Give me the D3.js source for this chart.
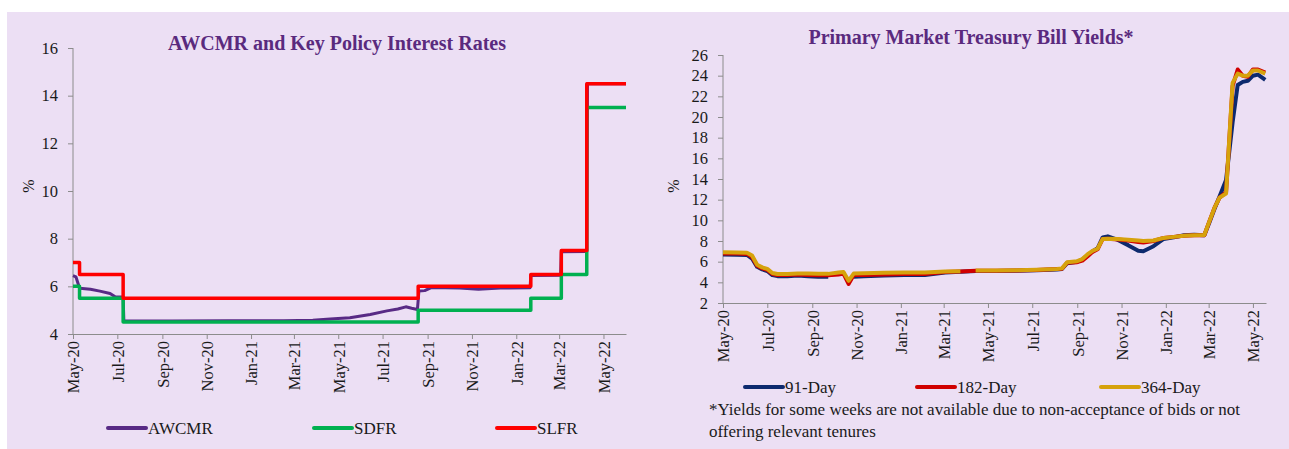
<!DOCTYPE html>
<html>
<head>
<meta charset="utf-8">
<script src="https://cdn.jsdelivr.net/npm/d3@7"></script>
<style>
  html, body { margin: 0; padding: 0; background: #fff; }
  svg { display: block; font-family: "Liberation Serif", "Times New Roman", serif; }
  .tick text { fill: #1a1a1a; }
  .domain, .tick line { stroke: #8c8c8c; }
</style>
</head>
<body>
<svg id="chart" width="1289" height="449"></svg>
<script>
const svg = d3.select("#chart");
const parse = d3.utcParse("%Y-%m-%d");

// --- left chart: AWCMR and policy rates ---
const policyDates = ["2020-05-01", "2020-05-10", "2020-07-09", "2021-08-19", "2022-01-21", "2022-03-04", "2022-04-08", "2022-06-01"];
const slfr = [7.0, 6.5, 5.5, 6.0, 6.5, 7.5, 14.5, 14.5];
const sdfr = [6.0, 5.5, 4.5, 5.0, 5.5, 6.5, 13.5, 13.5];

const awcmrDates = [
  "2020-05-01", "2020-05-05", "2020-05-10", "2020-05-25", "2020-06-07", "2020-06-21", "2020-06-28",
  "2020-07-09", "2020-07-10", "2020-09-15", "2020-12-01", "2021-02-15", "2021-03-27", "2021-04-20",
  "2021-05-17", "2021-06-14", "2021-07-07", "2021-07-22", "2021-08-02", "2021-08-10", "2021-08-18",
  "2021-08-20", "2021-08-28", "2021-09-06", "2021-10-15", "2021-11-10", "2021-12-10", "2022-01-20",
  "2022-01-21", "2022-03-03", "2022-03-04", "2022-04-08", "2022-04-09", "2022-06-01"
];
const awcmr = [
  6.45, 6.40, 5.92, 5.88, 5.80, 5.70, 5.56,
  5.55, 4.55, 4.55, 4.56, 4.56, 4.58, 4.63,
  4.68, 4.82, 4.97, 5.05, 5.14, 5.08, 5.03,
  5.80, 5.82, 5.95, 5.93, 5.88, 5.93, 5.94,
  6.45, 6.46, 7.45, 7.46, 14.5, 14.5
];

// --- right chart: primary market T-bill yields (null = not available) ---
const tbDates = [
  "2020-05-01", "2020-05-20", "2020-06-03", "2020-06-10", "2020-06-17", "2020-06-24", "2020-07-01",
  "2020-07-08", "2020-07-15", "2020-07-29", "2020-08-12", "2020-08-26", "2020-09-09", "2020-09-23",
  "2020-10-07", "2020-10-14", "2020-10-21", "2020-10-28", "2020-11-11", "2020-12-09", "2021-01-06",
  "2021-02-03", "2021-03-03", "2021-03-24", "2021-03-31", "2021-04-14", "2021-05-12", "2021-06-09",
  "2021-07-07", "2021-08-04", "2021-08-11", "2021-08-18", "2021-09-01", "2021-09-08", "2021-09-15",
  "2021-09-22", "2021-09-29", "2021-10-06", "2021-10-13", "2021-10-27", "2021-11-10", "2021-11-24",
  "2021-12-01", "2021-12-15", "2021-12-29", "2022-01-12", "2022-01-26", "2022-02-09", "2022-02-23",
  "2022-03-02", "2022-03-09", "2022-03-16", "2022-03-25", "2022-04-03", "2022-04-10", "2022-04-17",
  "2022-04-24", "2022-05-01", "2022-05-08", "2022-05-18"
];
const t91 = [
  6.70, 6.68, 6.65, 6.30, 5.50, 5.25, 5.10,
  4.70, 4.60, 4.60, 4.65, 4.60, 4.55, 4.55,
  null, null, null, 4.55, 4.60, 4.65, 4.70,
  4.70, 4.95, 5.02, 5.05, 5.10, 5.10, 5.12,
  5.18, 5.25, 5.30, 5.85, 6.00, 6.20, 6.60,
  7.00, 7.30, 8.35, 8.45, 8.10, 7.60, 7.05,
  7.00, 7.50, 8.20, 8.35, 8.55, 8.60, 8.55,
  9.80, 11.1, 12.3, 13.9, 19.5, 23.1, 23.4,
  23.5, 24.0, 24.1, 23.6
];
const t182 = [
  6.80, 6.78, 6.75, 6.45, 5.60, 5.35, 5.20,
  4.80, 4.70, 4.70, 4.75, 4.70, 4.68, 4.68,
  4.75, 4.85, 3.85, 4.70, 4.72, 4.75, 4.80,
  4.80, 5.00, 5.06, 5.08, 5.12, 5.12, 5.14,
  5.20, 5.28, 5.32, 5.90, 5.95, 6.10, 6.50,
  6.95, 7.20, 8.20, 8.22, 8.15, 8.05, 7.90,
  7.85, 8.00, 8.30, 8.40, 8.50, 8.55, 8.55,
  9.90, 11.2, 12.2, 12.7, 23.0, 24.6, 24.0,
  23.9, 24.6, 24.6, 24.3
];
const t364 = [
  6.90, 6.88, 6.87, 6.60, 5.70, 5.45, 5.30,
  4.90, 4.80, 4.80, 4.85, 4.85, 4.82, 4.82,
  4.95, 5.00, 4.15, 4.85, 4.88, 4.92, 4.95,
  4.95, 5.05, 5.08, null, 5.15, 5.15, 5.17,
  5.22, 5.30, 5.35, 5.95, 6.05, 6.25, 6.70,
  7.05, 7.25, 8.20, 8.22, 8.20, 8.12, 8.05,
  8.00, 8.05, 8.30, 8.40, 8.50, 8.55, 8.58,
  9.90, 11.2, 12.2, 12.6, 23.3, 24.2, 24.0,
  24.0, 24.5, 24.5, 24.2
];

const panelColor = "#ecdff4";
const titleColor = "#5a2a7e";
const textColor = "#1a1a1a";
const serif = "'Liberation Serif', 'Times New Roman', serif";
const fmtMonth = d3.utcFormat("%b-%y");

svg.append("rect")
  .attr("x", 7).attr("y", 12)
  .attr("width", 1282).attr("height", 437)
  .attr("fill", panelColor);

function styleAxis(a) {
  a.attr("font-family", serif).attr("font-size", 16.5);
}

function drawAxes(x, y, yTicks, yBase) {
  const g = svg.append("g");

  g.append("g")
    .attr("transform", `translate(0,${yBase})`)
    .call(d3.axisBottom(x).ticks(d3.utcMonth.every(2)).tickFormat(fmtMonth).tickSize(5).tickSizeOuter(0))
    .call(styleAxis)
    .call(a => a.selectAll(".tick text")
      .attr("transform", "rotate(-90)")
      .attr("text-anchor", "end")
      .attr("x", -7).attr("y", 0).attr("dy", "0.35em"));

  g.append("g")
    .attr("transform", `translate(${x.range()[0]},0)`)
    .call(d3.axisLeft(y).tickValues(yTicks).tickSize(5).tickSizeOuter(0).tickPadding(10))
    .call(styleAxis)
    .call(a => a.select(".domain").attr("d", `M0,${y.range()[0]}V${y.range()[1]}`));
}

function drawLine(dates, values, x, y, color, width, curve) {
  const pts = dates.map((d, i) => ({ date: parse(d), v: values[i] }));
  const line = d3.line()
    .defined(d => d.v != null)
    .x(d => x(d.date))
    .y(d => y(d.v))
    .curve(curve || d3.curveLinear);

  svg.append("path")
    .datum(pts)
    .attr("fill", "none")
    .attr("stroke", color)
    .attr("stroke-width", width)
    .attr("stroke-linejoin", "round")
    .attr("d", line);
}

function drawLegend(items, ly) {
  items.forEach(it => {
    svg.append("line")
      .attr("x1", it.x).attr("x2", it.x + 38)
      .attr("y1", ly).attr("y2", ly)
      .attr("stroke", it.color).attr("stroke-width", 4)
      .attr("stroke-linecap", "round");
    svg.append("text")
      .attr("x", it.x + 40).attr("y", ly)
      .attr("dy", "0.35em")
      .attr("font-size", 17)
      .attr("fill", textColor)
      .text(it.name);
  });
}

function yLabel(x, y) {
  svg.append("text")
    .attr("transform", `translate(${x},${y}) rotate(-90)`)
    .attr("text-anchor", "middle")
    .attr("dy", "0.35em")
    .attr("font-size", 16).attr("fill", textColor)
    .text("%");
}

// left chart
const xL = d3.scaleUtc().domain([parse("2020-05-01"), parse("2022-06-01")]).range([73, 626]);
const yL = d3.scaleLinear().domain([4, 16]).range([334, 48]);

drawAxes(xL, yL, d3.range(4, 17, 2), 334);
drawLine(awcmrDates, awcmr, xL, yL, "#582a85", 3);
drawLine(policyDates, sdfr, xL, yL, "#00b050", 3.5, d3.curveStepAfter);
drawLine(policyDates, slfr, xL, yL, "#ff0000", 3.5, d3.curveStepAfter);

svg.append("text")
  .attr("x", 337).attr("y", 50)
  .attr("text-anchor", "middle")
  .attr("font-size", 20).attr("font-weight", "bold")
  .attr("fill", titleColor)
  .text("AWCMR and Key Policy Interest Rates");

yLabel(28, 186);

drawLegend([
  { name: "AWCMR", color: "#582a85", x: 108 },
  { name: "SDFR", color: "#00b050", x: 314 },
  { name: "SLFR", color: "#ff0000", x: 497 }
], 428);

// right chart
const xR = d3.scaleUtc().domain([parse("2020-05-01"), parse("2022-05-19")]).range([723, 1266]);
const yR = d3.scaleLinear().domain([2, 26]).range([303, 55]);

drawAxes(xR, yR, d3.range(2, 27, 2), 303);
drawLine(tbDates, t91, xR, yR, "#0d2a6e", 4);
drawLine(tbDates, t182, xR, yR, "#d00000", 4);
drawLine(tbDates, t364, xR, yR, "#d6a20c", 4);

svg.append("text")
  .attr("x", 971).attr("y", 44)
  .attr("text-anchor", "middle")
  .attr("font-size", 20).attr("font-weight", "bold")
  .attr("fill", titleColor)
  .text("Primary Market Treasury Bill Yields*");

yLabel(673, 186);

drawLegend([
  { name: "91-Day", color: "#0d2a6e", x: 745 },
  { name: "182-Day", color: "#d00000", x: 917 },
  { name: "364-Day", color: "#d6a20c", x: 1101 }
], 387);

svg.append("text")
  .attr("x", 709).attr("y", 415)
  .attr("font-size", 17).attr("fill", textColor)
  .text("*Yields for some weeks are not available due to non-acceptance of bids or not");
svg.append("text")
  .attr("x", 709).attr("y", 437)
  .attr("font-size", 17).attr("fill", textColor)
  .text("offering relevant tenures");
</script>
</body>
</html>
